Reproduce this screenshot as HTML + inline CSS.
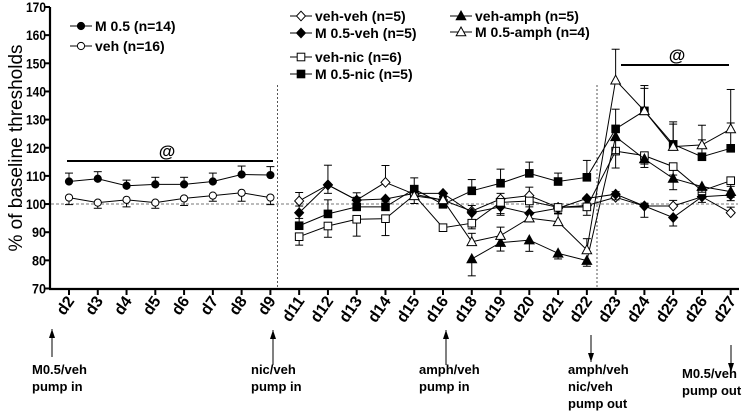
<!DOCTYPE html>
<html><head><meta charset="utf-8">
<style>
body{margin:0;background:#fff;}
svg{display:block;font-family:"Liberation Sans",Arial,sans-serif;}
</style></head>
<body>
<svg id="chart" width="750" height="417" viewBox="0 0 750 417">
<g id="axes"></g><g id="marks"></g><g id="legend"></g><g id="notes"></g>
</svg>
<script>
const categories=["d2","d3","d4","d5","d6","d7","d8","d9","d11","d12","d13","d14","d15","d16","d18","d19","d20","d21","d22","d23","d24","d25","d26","d27"];
const yTicks=[70,80,90,100,110,120,130,140,150,160,170];
const seriesNames=["M 0.5 (n=14)","veh (n=16)","veh-veh (n=5)","M 0.5-veh (n=5)","veh-nic (n=6)","M 0.5-nic (n=5)","veh-amph (n=5)","M 0.5-amph (n=4)"];
const m05=[108,109,106.5,107,107,108,110.5,110.3];
const veh=[102.3,100.5,101.5,100.5,102,103,104,102.3];
const vehVeh=[101.1,106.8,101.4,107.7,103.5,101.4,97.5,101.8,103,98.8,99.5,102.4,99.3,99.3,102.6,96.9];
const m05Veh=[96.9,106.8,101.4,101.8,103.8,103.8,96.9,99,96.7,98.5,102,103.5,99.3,95.2,102.6,103.2];
const vehNic=[88.4,92.2,94.6,94.8,103.2,91.6,93.2,100.6,101.1,98.8,99,118.8,117.2,113.3,104.7,108.3];
const m05Nic=[92.3,96.5,99,99,105.3,99.9,104.7,107.4,110.9,108,109.5,126.7,133.1,121.2,116.8,119.8];
const vehAmph=[null,null,null,null,null,null,80.5,86.3,87.2,82.5,79.9,123.9,116,109.1,106.2,104.4];
const m05Amph=[null,null,null,null,102.9,101.5,86.6,88.8,95,93.7,83.7,144,133.1,120.4,121,126.7];
const errM05=[3,2.5,2,2.5,2.5,3,3,3];
const errVeh=[2.5,2,2.5,2,2.5,2,3,2.5];
const errVehVeh=[3,7,1,6,2,1,2,2,3,1,2,2,1,2,2,2];
const errM05Veh=[2,3,2,3,2,1,3,3,3,2,3,2,4,3,2,2];
const errVehNic=[3,4,6,6,3,1,2,4,4,2,3,6,3,3,2,2];
const errM05Nic=[7,5,5,2,4,1,4,5,4,3,6,7,8,8,6,9];
const errVehAmph=[0,0,0,0,0,0,6,3,4,2,2,6,3,4,2,2];
const errM05Amph=[0,0,0,0,2,1,3,3,4,3,4,11,9,8,7,14];

const NS="http://www.w3.org/2000/svg";
const X0=69,DX=28.77,YB=288.5,PX=2.815;
function xs(i){return X0+DX*i;}
function ys(v){return YB-(v-70)*PX;}
function mk(tag,attrs,parent,text){const e=document.createElementNS(NS,tag);for(const k in attrs)e.setAttribute(k,attrs[k]);if(text!==undefined)e.textContent=text;parent.appendChild(e);return e;}
const axes=document.getElementById('axes'),marks=document.getElementById('marks'),legend=document.getElementById('legend'),notes=document.getElementById('notes');

let a=mk('line',{x1:50,y1:7,x2:50,y2:289.5,stroke:'#000','stroke-width':2.2},axes);


a=mk('line',{x1:49,y1:289,x2:739,y2:289,stroke:'#000','stroke-width':2.2},axes);


yTicks.forEach(v=>{
  mk('line',{x1:45,y1:ys(v),x2:50,y2:ys(v),stroke:'#000','stroke-width':2},axes);
  const len=String(v).length===3?20:14;
  const t=mk('text',{x:46,y:ys(v)+5,'text-anchor':'end','font-size':14,'font-weight':'bold',textLength:len,lengthAdjust:'spacingAndGlyphs'},axes,v);
  
  
});
categories.forEach((c,i)=>{
  const x=xs(i);
  mk('line',{x1:x,y1:289,x2:x,y2:295,stroke:'#000','stroke-width':2},axes);
  const t=mk('text',{x:x+6,y:301,'text-anchor':'end','font-size':16,'font-weight':'bold',transform:`rotate(-55 ${x+6} 301)`},axes,c);
  
  
});
a=mk('text',{x:22,y:148,'text-anchor':'middle','font-size':19,transform:'rotate(-90 22 148)'},axes,'% of baseline thresholds');


a=mk('line',{x1:51,y1:ys(100),x2:738,y2:ys(100),stroke:'#777','stroke-width':1,'stroke-dasharray':'3,2'},axes);


[277.5,597].forEach(x=>{
  const l=mk('line',{x1:x,y1:85,x2:x,y2:288,stroke:'#555','stroke-width':1,'stroke-dasharray':'2,2'},axes);
  
  
});
[[67,273,161,167],[621,729,65,677]].forEach(s=>{
  const l=mk('line',{x1:s[0],y1:s[2],x2:s[1],y2:s[2],stroke:'#000','stroke-width':2},axes);
  
  
  const t=mk('text',{x:s[3],y:s[2]-4,'text-anchor':'middle','font-size':17,'font-weight':'bold'},axes,'@');
  
  
});

function marker(shape,x,y,parent){
  const fill=shape.f?'#000':'#fff';let e;
  if(shape.s==='c')e=mk('circle',{cx:x,cy:y,r:3.6,fill,stroke:'#000','stroke-width':1},parent);
  else if(shape.s==='d')e=mk('polygon',{points:`${x},${y-4.8} ${x+4.5},${y} ${x},${y+4.8} ${x-4.5},${y}`,fill,stroke:'#000','stroke-width':1},parent);
  else if(shape.s==='s')e=mk('rect',{x:x-3.8,y:y-3.8,width:7.6,height:7.6,fill,stroke:'#000','stroke-width':1},parent);
  else e=mk('polygon',{points:`${x},${y-5} ${x+4.8},${y+3.8} ${x-4.8},${y+3.8}`,fill,stroke:'#000','stroke-width':1},parent);
  return e;
}
const series=[
 {d:m05,e:errM05,off:0,s:'c',f:true,dir:1,name:'series-m05'},
 {d:veh,e:errVeh,off:0,s:'c',f:false,dir:-1,name:'series-veh'},
 {d:vehVeh,e:errVehVeh,off:8,s:'d',f:false,dir:1,name:'series-veh-veh'},
 {d:m05Veh,e:errM05Veh,off:8,s:'d',f:true,dir:-1,name:'series-m05-veh'},
 {d:vehNic,e:errVehNic,off:8,s:'s',f:false,dir:-1,name:'series-veh-nic'},
 {d:m05Nic,e:errM05Nic,off:8,s:'s',f:true,dir:1,name:'series-m05-nic'},
 {d:vehAmph,e:errVehAmph,off:8,s:'t',f:true,dir:-1,name:'series-veh-amph'},
 {d:m05Amph,e:errM05Amph,off:8,s:'t',f:false,dir:1,name:'series-m05-amph'}
];
series.forEach(sr=>{
  const g=mk('g',{},marks);
  
  
  let pts=[];
  sr.d.forEach((v,i)=>{if(v!==null)pts.push([xs(i+sr.off),ys(v),sr.e[i]]);});
  pts.forEach(p=>{if(p[2]>0){
    const y2=p[1]-sr.dir*p[2]*PX;
    mk('line',{x1:p[0],y1:p[1],x2:p[0],y2:y2,stroke:'#000','stroke-width':1},g);
    mk('line',{x1:p[0]-4,y1:y2,x2:p[0]+4,y2:y2,stroke:'#000','stroke-width':1},g);
  }});
  mk('polyline',{points:pts.map(p=>p[0]+','+p[1]).join(' '),fill:'none',stroke:'#000','stroke-width':1},g);
  pts.forEach(p=>{
    const m=marker(sr,p[0],p[1],g);
    
    
  });
});
const leg=[[70,26,0],[70,46,1],[290,16,2],[290,33,3],[290,57,4],[290,74,5],[450,16,6],[450,32,7]];
leg.forEach(l=>{
  const sr=series[l[2]];
  const g=mk('g',{},legend);
  
  
  mk('line',{x1:l[0],y1:l[1],x2:l[0]+22,y2:l[1],stroke:'#000','stroke-width':1},g);
  marker(sr,l[0]+11,l[1],g);
  mk('text',{x:l[0]+25,y:l[1]+5,'font-size':14,'font-weight':'bold'},g,seriesNames[l[2]]);
});
const arrows=[[52,329,357,'up'],[273,330,365,'up'],[446,330,365,'up'],[591,335,362,'down'],[731,345,372,'down']];
arrows.forEach(ar=>{
  const g=mk('g',{},notes);
  
  
  mk('line',{x1:ar[0],y1:ar[1],x2:ar[0],y2:ar[2],stroke:'#000','stroke-width':1},g);
  const tip=ar[3]==='up'?ar[1]:ar[2];const s=ar[3]==='up'?1:-1;
  mk('polygon',{points:`${ar[0]},${tip} ${ar[0]-3},${tip+9*s} ${ar[0]+3},${tip+9*s}`,fill:'#000'},g);
});
const labels=[[32,['M0.5/veh','pump in']],[251,['nic/veh','pump in']],[419,['amph/veh','pump in']],[568,['amph/veh','nic/veh','pump out']],[682,['M0.5/veh','pump out']]];
labels.forEach((lb,k)=>{
  const t=mk('text',{x:lb[0],y:k===4?378:374,'font-size':13,'font-weight':'bold'},notes);
  
  
  lb[1].forEach((s,j)=>{mk('tspan',{x:lb[0],dy:j?17:0},t,s);});
});
</script>
</body></html>
